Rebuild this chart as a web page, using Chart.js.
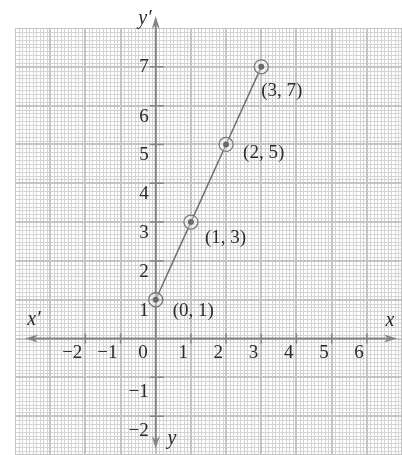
<!DOCTYPE html>
<html>
<head>
<meta charset="utf-8">
<script src="https://cdn.jsdelivr.net/npm/chart.js@4.4.1/dist/chart.umd.min.js"></script>
<style>
  html, body { margin: 0; padding: 0; background: #fff; }
  #wrap { width: 402px; height: 455px; position: relative; }
</style>
</head>
<body>
<div id="wrap"><canvas id="grafico"></canvas></div>
<script>
// === Dados ===
const pontosX = [0, 1, 2, 3];
const pontosY = [1, 3, 5, 7];
const rotulosPontos = ["(0, 1)", "(1, 3)", "(2, 5)", "(3, 7)"];
const ticksX = [-2, -1, 0, 1, 2, 3, 4, 5, 6];
const ticksY = [-2, -1, 1, 2, 3, 4, 5, 6, 7];

// limites do papel milimetrado
const limX = [-4, 7];
const limY = [-3, 8];

const pontos = pontosX.map((x, i) => ({ x: x, y: pontosY[i] }));

// deslocamento dos rótulos (px) em relação a cada ponto
const offsetRotulo = [[17, 11], [14, 16], [17, 9], [0, 24]];

const corEixo = "#858585";
const fonteNum = "19px 'Liberation Serif', 'DejaVu Serif', serif";
const fonteEixo = "italic 20px 'Liberation Serif', 'DejaVu Serif', serif";

function menos(v) {
  return v < 0 ? "\u2212" + Math.abs(v) : String(v);
}

// papel milimetrado: 10 divisões por unidade
const pluginPapel = {
  id: "papel",
  beforeDatasetsDraw(chart) {
    const { ctx, scales: { x, y }, chartArea: a } = chart;
    ctx.save();
    ctx.beginPath();
    ctx.rect(a.left, a.top, a.right - a.left + 2, a.bottom - a.top + 2);
    ctx.clip();

    ctx.strokeStyle = "#d4d4d4";
    ctx.lineWidth = 1;
    ctx.beginPath();
    for (let i = limX[0] * 10; i <= limX[1] * 10; i++) {
      if (i % 10 === 0) continue;
      const px = Math.round(x.getPixelForValue(i / 10)) + 0.5;
      ctx.moveTo(px, a.top); ctx.lineTo(px, a.bottom);
    }
    for (let i = limY[0] * 10; i <= limY[1] * 10; i++) {
      if (i % 10 === 0) continue;
      const py = Math.round(y.getPixelForValue(i / 10)) + 0.5;
      ctx.moveTo(a.left, py); ctx.lineTo(a.right, py);
    }
    ctx.stroke();

    ctx.strokeStyle = "#c4c4c4";
    ctx.lineWidth = 2;
    ctx.beginPath();
    for (let v = limX[0]; v <= limX[1]; v++) {
      const px = Math.round(x.getPixelForValue(v));
      ctx.moveTo(px, a.top); ctx.lineTo(px, a.bottom);
    }
    for (let v = limY[0]; v <= limY[1]; v++) {
      const py = Math.round(y.getPixelForValue(v));
      ctx.moveTo(a.left, py); ctx.lineTo(a.right, py);
    }
    ctx.stroke();
    ctx.restore();

    // eixos com setas
    const x0 = x.getPixelForValue(0);
    const y0 = y.getPixelForValue(0);
    ctx.save();
    ctx.strokeStyle = corEixo;
    ctx.fillStyle = corEixo;
    ctx.lineWidth = 2;
    ctx.beginPath();
    ctx.moveTo(30, y0); ctx.lineTo(393, y0);
    ctx.moveTo(x0, 20); ctx.lineTo(x0, 445);
    ctx.stroke();

    function seta(tx, ty, dx, dy) {
      const nx = -dy, ny = dx;
      ctx.beginPath();
      ctx.moveTo(tx, ty);
      ctx.lineTo(tx - dx * 13 + nx * 4, ty - dy * 13 + ny * 4);
      ctx.lineTo(tx - dx * 9, ty - dy * 9);
      ctx.lineTo(tx - dx * 13 - nx * 4, ty - dy * 13 - ny * 4);
      ctx.closePath();
      ctx.fill();
    }
    seta(25, y0, -1, 0);
    seta(397, y0, 1, 0);
    seta(x0, 16, 0, -1);
    seta(x0, 449, 0, 1);

    // marcas dos eixos
    ctx.lineWidth = 1.5;
    ctx.beginPath();
    ticksX.forEach(v => {
      if (v === 0) return;
      const px = x.getPixelForValue(v);
      ctx.moveTo(px, y0 - 5); ctx.lineTo(px, y0 + 5);
    });
    ticksY.forEach(v => {
      const py = y.getPixelForValue(v);
      ctx.moveTo(x0 - 6, py); ctx.lineTo(x0 + 8, py);
    });
    ctx.stroke();
    ctx.restore();
  },
  afterDatasetsDraw(chart) {
    const { ctx, scales: { x, y } } = chart;
    const x0 = x.getPixelForValue(0);
    const y0 = y.getPixelForValue(0);
    ctx.save();
    ctx.fillStyle = "#2b2b2b";
    ctx.font = fonteNum;

    // números do eixo x
    ctx.textAlign = "right";
    ctx.textBaseline = "middle";
    ticksX.forEach(v => {
      const px = x.getPixelForValue(v);
      ctx.fillText(menos(v), px - (v === 0 ? 8 : 3), y0 + 14);
    });

    // números do eixo y
    const topo = ticksY[ticksY.length - 1];
    ticksY.forEach(v => {
      const py = y.getPixelForValue(v);
      const dy = v === topo ? 0 : (v < 0 ? 15 : 11);
      ctx.fillText(menos(v), x0 - 7, py + dy);
    });

    // nomes dos eixos
    ctx.font = fonteEixo;
    ctx.textAlign = "center";
    ctx.fillText("y\u2032", 145, 19);
    ctx.fillText("y", 172, 439);
    ctx.fillText("x\u2032", 34, 320);
    ctx.fillText("x", 390, 321);

    // rótulos dos pontos
    ctx.font = fonteNum;
    ctx.textAlign = "left";
    pontos.forEach((p, i) => {
      const px = x.getPixelForValue(p.x);
      const py = y.getPixelForValue(p.y);
      ctx.fillText(rotulosPontos[i], px + offsetRotulo[i][0], py + offsetRotulo[i][1]);
    });
    ctx.restore();
  }
};

const ctx = document.getElementById("grafico").getContext("2d");
new Chart(ctx, {
  type: "scatter",
  data: {
    datasets: [
      {
        data: pontos,
        showLine: true,
        borderColor: "#707070",
        borderWidth: 1.5,
        pointRadius: 7,
        pointBorderWidth: 1.3,
        pointBorderColor: "#7a7a7a",
        pointBackgroundColor: "rgba(255,255,255,0.35)",
        order: 2
      },
      {
        data: pontos,
        showLine: false,
        pointRadius: 3,
        pointBorderWidth: 0,
        pointBackgroundColor: "#6a6a6a",
        order: 1
      }
    ]
  },
  options: {
    responsive: true,
    maintainAspectRatio: false,
    animation: false,
    layout: { autoPadding: false, padding: { left: 15, top: 28, right: 0, bottom: 0 } },
    scales: {
      x: { type: "linear", min: limX[0], max: limX[1], display: false },
      y: { type: "linear", min: limY[0], max: limY[1], display: false }
    },
    plugins: {
      legend: { display: false },
      tooltip: { enabled: false }
    }
  },
  plugins: [pluginPapel]
});
</script>
</body>
</html>
